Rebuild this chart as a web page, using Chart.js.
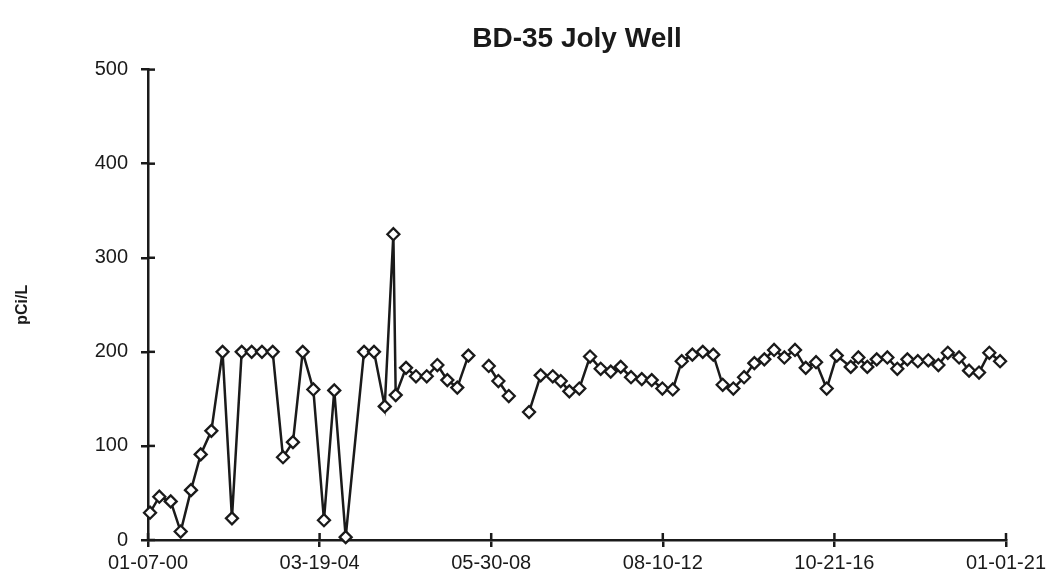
<!DOCTYPE html>
<html>
<head>
<meta charset="utf-8">
<script src="https://cdn.jsdelivr.net/npm/chart.js@4/dist/chart.umd.min.js"></script>
<style>
html,body{margin:0;padding:0;background:#fff;}
#wrap{width:1057px;height:577px;position:relative;}
</style>
</head>
<body>
<div id="wrap"><canvas id="c" width="1057" height="577"></canvas></div>
<script>
// Days since 01-07-00 for each sample (null value = gap in record)
const sampleDays = [18,101,203,292,384,471,566,666,750,837,926,1018,1114,1206,1295,1382,1477,1572,1664,1766,1930,2019,2115,2192,2213,2305,2394,2490,2585,2674,2763,2862,2950,3044,3130,3223,3310,3404,3508,3616,3687,3764,3853,3949,4044,4134,4223,4315,4411,4500,4595,4688,4768,4863,4956,5050,5134,5229,5325,5417,5506,5593,5685,5780,5876,5968,6063,6153,6278,6346,6426,6510,6605,6694,6784,6877,6971,7061,7145,7246,7335,7424,7516,7612];
const values = [29,46,41,9,53,91,116,200,23,200,200,200,200,88,104,200,160,21,159,3,200,200,142,325,154,183,174,174,186,170,162,196,null,185,169,153,null,136,175,174,169,158,161,195,182,179,184,173,171,170,161,160,190,197,200,197,165,161,173,188,192,202,194,202,183,189,161,196,184,194,184,192,194,182,192,190,191,186,199,194,180,178,199,190];
const xTickLabels = ['01-07-00','03-19-04','05-30-08','08-10-12','10-21-16','01-01-21'];
const xTickStep = 1533;
const yTicks = [0,100,200,300,400,500];

const ink = '#1a1a1a';
const points = sampleDays.map((d,i)=>({x:d, y:values[i]}));

const innerTicks = {
  id:'innerTicks',
  afterDraw(chart){
    const ctx = chart.ctx, xs = chart.scales.x, ys = chart.scales.y, a = chart.chartArea;
    ctx.save();
    ctx.strokeStyle = ink; ctx.lineWidth = 2.5;
    for (let i=0;i<xTickLabels.length;i++){
      const px = xs.getPixelForValue(i*xTickStep);
      ctx.beginPath(); ctx.moveTo(px, a.bottom); ctx.lineTo(px, a.bottom-7); ctx.stroke();
    }
    yTicks.forEach(v=>{
      const py = ys.getPixelForValue(v);
      ctx.beginPath(); ctx.moveTo(a.left, py); ctx.lineTo(a.left+7, py); ctx.stroke();
    });
    ctx.restore();
  }
};

new Chart(document.getElementById('c'), {
  type:'line',
  data:{datasets:[{
    data: points,
    borderColor: ink,
    borderWidth: 2.5,
    pointStyle: 'rectRot',
    pointRadius: 6,
    pointHoverRadius: 6,
    pointBorderWidth: 2.3,
    pointBackgroundColor: '#fff',
    pointBorderColor: ink,
    spanGaps: false,
    tension: 0,
    clip: false
  }]},
  options:{
    responsive:false,
    animation:false,
    events:[],
    layout:{padding:{left:0,right:51,top:0,bottom:0}},
    plugins:{
      legend:{display:false},
      tooltip:{enabled:false},
      title:{
        display:true,
        text:'BD-35 Joly Well',
        fullSize:false,
        color: ink,
        font:{family:'Liberation Sans, Arial, sans-serif', size:28, weight:'bold'},
        padding:{top:22,bottom:14}
      }
    },
    scales:{
      x:{
        type:'linear',
        min:0, max:xTickStep*(xTickLabels.length-1),
        afterBuildTicks(s){ s.ticks = xTickLabels.map((_,i)=>({value:i*xTickStep})); },
        afterFit(s){ s.height = 37; },
        ticks:{
          color: ink,
          font:{family:'Liberation Sans, Arial, sans-serif', size:20},
          padding:4,
          maxRotation:0,
          autoSkip:false,
          callback:(v)=>xTickLabels[Math.round(v/xTickStep)]
        },
        grid:{drawOnChartArea:false, drawTicks:true, tickLength:7, color:ink, lineWidth:2.5},
        border:{display:true, color:ink, width:2.5}
      },
      y:{
        min:0, max:500,
        afterBuildTicks(s){ s.ticks = yTicks.map(v=>({value:v})); },
        afterFit(s){ s.width = 148; },
        ticks:{
          color: ink,
          font:{family:'Liberation Sans, Arial, sans-serif', size:20},
          padding:13
        },
        title:{
          display:true,
          text:'pCi/L',
          color: ink,
          font:{family:'Liberation Sans, Arial, sans-serif', size:16, weight:'bold'},
          padding:{top:13,bottom:0}
        },
        grid:{drawOnChartArea:false, drawTicks:true, tickLength:7, color:ink, lineWidth:2.5},
        border:{display:true, color:ink, width:2.5}
      }
    }
  },
  plugins:[innerTicks]
});
</script>
</body>
</html>
